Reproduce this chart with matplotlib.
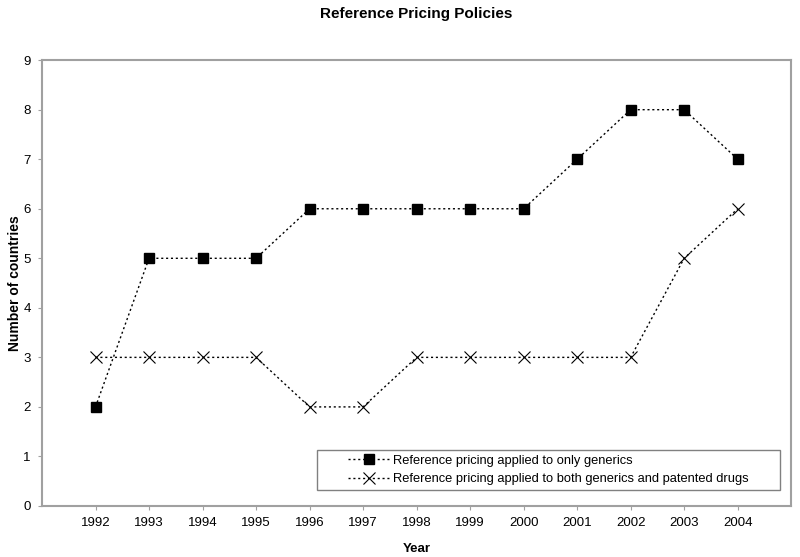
import numpy as np
import matplotlib
matplotlib.use("Agg")
import matplotlib.pyplot as plt
from matplotlib.patches import Rectangle

plt.rcParams['font.family'] = ['Liberation Sans', 'DejaVu Sans']

# Données
years = [1992, 1993, 1994, 1995, 1996, 1997, 1998, 1999, 2000, 2001, 2002, 2003, 2004]
generics_only = [2, 5, 5, 5, 6, 6, 6, 6, 6, 7, 8, 8, 7]
generics_and_patented = [3, 3, 3, 3, 2, 2, 3, 3, 3, 3, 3, 5, 6]

fig = plt.figure(figsize=(8, 5.57), dpi=100)
ax = fig.add_axes([0.0525, 0.0916, 0.9365, 0.8004])

ax.plot(years, generics_only, linestyle=(0, (1.5, 2)), color='black', linewidth=1,
        marker='s', markersize=7, label='Reference pricing applied to only generics')
ax.plot(years, generics_and_patented, linestyle=(0, (1.5, 2)), color='black', linewidth=1,
        marker='x', markersize=8, markeredgewidth=0.8,
        label='Reference pricing applied to both generics and patented drugs')

ax.set_xlim(1991, 2005)
ax.set_ylim(0, 9)
ax.set_xticks(years)
ax.set_xticklabels([str(y) for y in years])
ax.set_yticks(range(0, 10))

for s in ax.spines.values():
    s.set_color('#a0a0a0')
    s.set_linewidth(1.5)
ax.tick_params(axis='both', colors='#a0a0a0', labelcolor='black', labelsize=9.5, length=3, pad=5)

ax.set_title('Reference Pricing Policies', fontsize=11, fontweight='bold', pad=30)
ax.set_xlabel('Year', fontsize=9.5, fontweight='bold', labelpad=10)
ax.set_ylabel('Number of countries', fontsize=10, fontweight='bold', labelpad=1)

# cadre de la légende, dessiné à part pour avoir les marges d'Excel
ax.add_patch(Rectangle((0.367, 0.036), 0.618, 0.09, transform=ax.transAxes,
                       facecolor='white', edgecolor='#808080', linewidth=1, zorder=3))
leg = ax.legend(loc='center', bbox_to_anchor=(0.676, 0.081), fontsize=9.3,
                frameon=False, borderpad=0, handlelength=3.2, handletextpad=0.3,
                labelspacing=0.5)
leg.set_zorder(4)

fig.savefig('out.png', dpi=100)
